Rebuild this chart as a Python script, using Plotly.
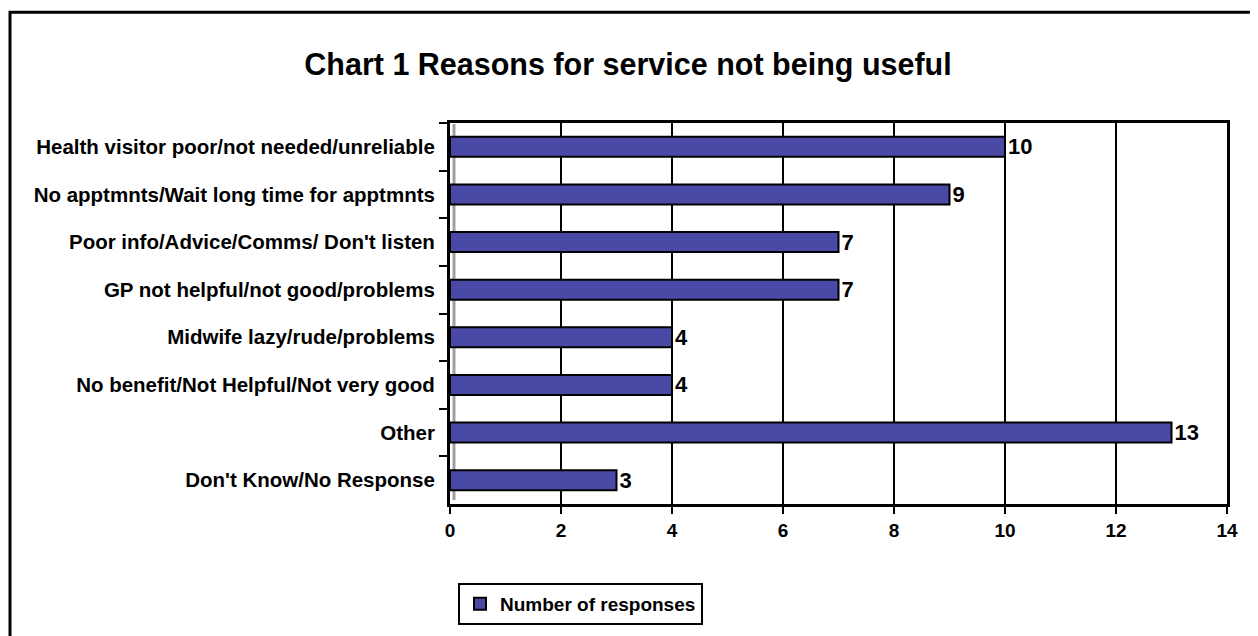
import plotly.graph_objects as go

categories = [
    "Health visitor poor/not needed/unreliable",
    "No apptmnts/Wait long time for apptmnts",
    "Poor info/Advice/Comms/ Don't listen",
    "GP not helpful/not good/problems",
    "Midwife lazy/rude/problems",
    "No benefit/Not Helpful/Not very good",
    "Other",
    "Don't Know/No Response",
]
responses = [10, 9, 7, 7, 4, 4, 13, 3]
series_name = "Number of responses"
x_ticks = [0, 2, 4, 6, 8, 10, 12, 14]

# page has an 8px body margin; figure coordinates are reference px minus 8
OFF = 8
W, H = 1258 - OFF, 636 - OFF
L, R, T, B = 450 - OFF, 1227 - OFF, 123 - OFF, 505 - OFF
FONT = "Liberation Sans, Arial, sans-serif"

label_font = dict(family=FONT, size=22, color="black", weight="bold")

fig = go.Figure()
fig.add_trace(go.Bar(
    y=categories, x=responses, orientation="h", name=series_name,
    marker=dict(color="#4a4aa6", line=dict(color="black", width=2)),
    width=0.42,
    text=[str(v) for v in responses], textposition="outside",
    textfont=label_font, outsidetextfont=label_font,
    constraintext="none",
    cliponaxis=False,
))

def px2x(px):
    return (px - OFF - L) / (R - L)

def px2y(py):
    return (B - (py - OFF)) / (B - T)

fig.update_layout(
    width=W, height=H,
    margin=dict(l=L, r=W - R, t=T, b=H - B),
    paper_bgcolor="white", plot_bgcolor="white",
    font=dict(family=FONT, color="black"),
    title=dict(text="<b>Chart 1 Reasons for service not being useful</b>",
               x=(628 - OFF) / W, xanchor="center", y=1 - (64 - OFF) / H, yanchor="middle",
               font=dict(size=30.5, color="black")),
    showlegend=True,
    legend=dict(x=px2x(458), y=px2y(583), xanchor="left", yanchor="top",
                bordercolor="black", borderwidth=2, bgcolor="white",
                font=dict(size=19, color="black", weight="bold"),
                itemwidth=30),
)
fig.update_xaxes(
    range=[0, 14], tickvals=x_ticks, ticks="outside", ticklen=7, tickwidth=2,
    tickcolor="black", showgrid=True, gridcolor="black", gridwidth=2,
    showline=True, linecolor="black", linewidth=3, mirror=True, zeroline=False,
    tickfont=dict(size=19, color="black", weight="bold"),
)
fig.update_yaxes(
    autorange="reversed", type="category", tickson="boundaries",
    ticks="outside", ticklen=8, tickwidth=2, tickcolor="black",
    showline=True, linecolor="black", linewidth=3, mirror=True,
    showgrid=False, ticklabelstandoff=8,
    tickfont=dict(size=20.5, color="black", weight="bold"),
)
# outer chart frame (left/top edges visible)
fig.add_shape(type="rect", xref="paper", yref="paper",
              x0=px2x(10), x1=px2x(1280), y0=px2y(680), y1=px2y(12),
              line=dict(color="black", width=3), layer="below")
# grey side wall of the 3-D plot area
fig.add_shape(type="line", xref="paper", yref="paper",
              x0=px2x(454), x1=px2x(454), y0=px2y(501), y1=px2y(124),
              line=dict(color="#a0a0a0", width=3), layer="below")
fig.write_html("out.html")
